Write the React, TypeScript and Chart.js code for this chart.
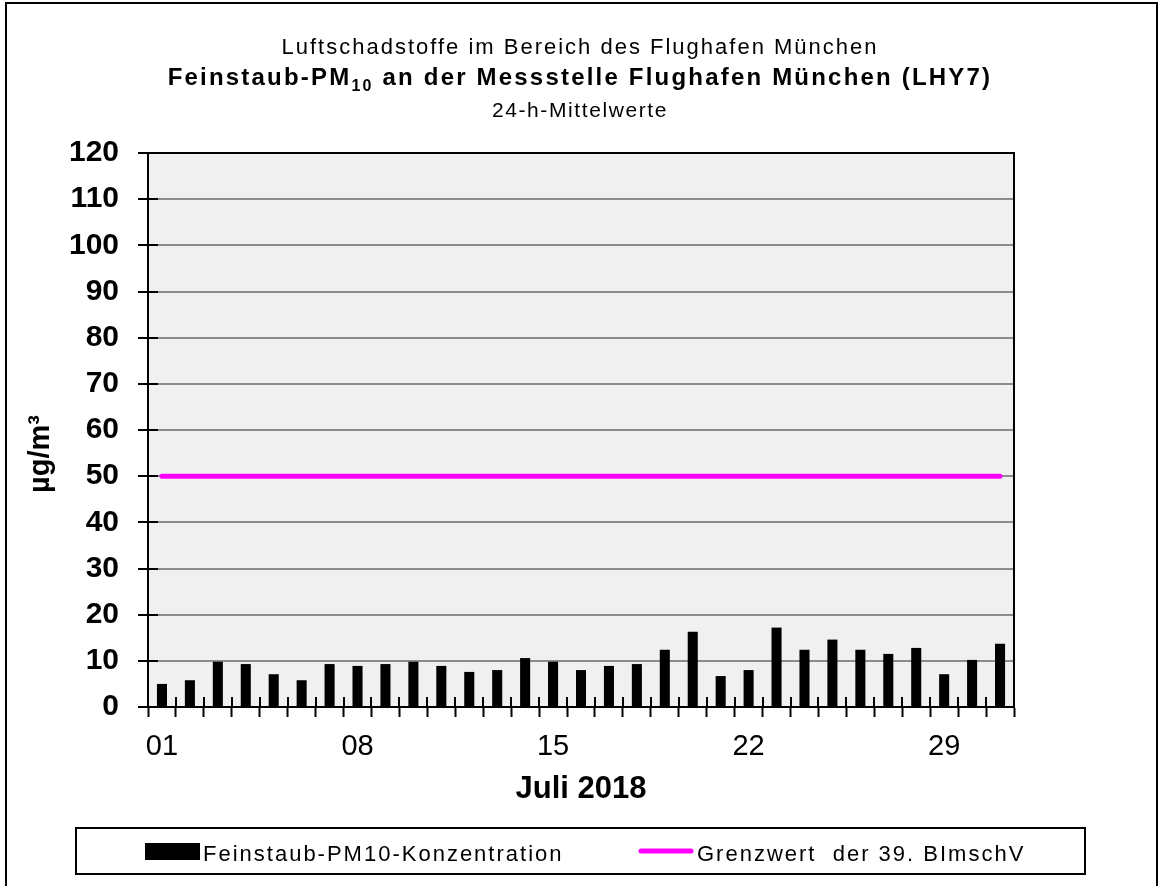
import React, { useEffect, useRef } from "react";
import { Chart, registerables } from "chart.js";

Chart.register(...registerables);

// ---------- data ----------
const DAYS = [
  "01", "02", "03", "04", "05", "06", "07", "08", "09", "10",
  "11", "12", "13", "14", "15", "16", "17", "18", "19", "20",
  "21", "22", "23", "24", "25", "26", "27", "28", "29", "30", "31",
];
const SHOWN_DAY_LABELS = ["01", "08", "15", "22", "29"];
const PM10 = [
  5.0, 5.8, 9.8, 9.3, 7.1, 5.8, 9.3, 8.9, 9.3, 9.8,
  8.9, 7.6, 8.0, 10.6, 9.8, 8.0, 8.9, 9.3, 12.4, 16.3,
  6.7, 8.0, 17.2, 12.4, 14.6, 12.4, 11.5, 12.8, 7.1, 10.2, 13.7,
];
const GRENZWERT = [
  50, 50, 50, 50, 50, 50, 50, 50, 50, 50,
  50, 50, 50, 50, 50, 50, 50, 50, 50, 50,
  50, 50, 50, 50, 50, 50, 50, 50, 50, 50, 50,
];
const Y_MIN = 0;
const Y_MAX = 120;
const Y_STEP = 10;

const TITLE_LINE1 = "Luftschadstoffe im Bereich des Flughafen München";
const TITLE_LINE2_A = "Feinstaub-PM";
const TITLE_LINE2_SUB = "10";
const TITLE_LINE2_B = " an der Messstelle Flughafen München (LHY7)";
const TITLE_LINE3 = "24-h-Mittelwerte";
const X_TITLE = "Juli 2018";
const Y_TITLE = "µg/m³";
const LEGEND_BAR = "Feinstaub-PM10-Konzentration";
const LEGEND_LINE = "Grenzwert  der 39. BImschV";

const FONT = '"Liberation Sans", Arial, Helvetica, sans-serif';
const W = 1159;
const H = 886;

function setSpacing(ctx: any, px: number) {
  if ("letterSpacing" in ctx) ctx.letterSpacing = px + "px";
}

const decorPlugin = {
  id: "decor",
  beforeDraw(chart: any) {
    const { ctx, chartArea: a } = chart;
    ctx.save();
    ctx.fillStyle = "#ffffff";
    ctx.fillRect(0, 0, chart.width, chart.height);
    ctx.fillStyle = "#f0f0f0";
    ctx.fillRect(a.left, a.top, a.right - a.left, a.bottom - a.top);
    ctx.restore();
  },
  afterDraw(chart: any) {
    const { ctx, chartArea: a } = chart;
    const xs = chart.scales.x;
    const ys = chart.scales.y;
    ctx.save();
    ctx.strokeStyle = "#000";
    ctx.lineWidth = 2;
    // inner y tick marks
    ys.ticks.forEach((t: any) => {
      if (t.value <= Y_MIN || t.value >= Y_MAX) return;
      const py = Math.round(ys.getPixelForValue(t.value));
      ctx.beginPath();
      ctx.moveTo(a.left, py);
      ctx.lineTo(a.left + 10, py);
      ctx.stroke();
    });
    // inner x tick marks at category boundaries
    for (let i = 1; i < DAYS.length; i++) {
      const px = Math.round((xs.getPixelForValue(i - 1) + xs.getPixelForValue(i)) / 2);
      ctx.beginPath();
      ctx.moveTo(px, a.bottom - 10);
      ctx.lineTo(px, a.bottom);
      ctx.stroke();
    }
    // plot frame
    ctx.strokeRect(a.left, a.top, a.right - a.left, a.bottom - a.top);
    // outer frame
    ctx.strokeRect(6, 3, 1151, 900);

    // titles
    ctx.fillStyle = "#000";
    ctx.textBaseline = "alphabetic";
    ctx.textAlign = "left";
    const cx = 580;
    // line 1
    ctx.font = `22px ${FONT}`;
    setSpacing(ctx, 2);
    const w1 = ctx.measureText(TITLE_LINE1).width;
    ctx.fillText(TITLE_LINE1, cx - w1 / 2, 54);
    // line 2
    ctx.font = `bold 24px ${FONT}`;
    setSpacing(ctx, 2.2);
    const wa = ctx.measureText(TITLE_LINE2_A).width;
    const wb = ctx.measureText(TITLE_LINE2_B).width;
    ctx.font = `bold 16px ${FONT}`;
    const ws = ctx.measureText(TITLE_LINE2_SUB).width;
    const x2 = cx - (wa + ws + wb) / 2;
    ctx.font = `bold 24px ${FONT}`;
    ctx.fillText(TITLE_LINE2_A, x2, 85);
    ctx.font = `bold 16px ${FONT}`;
    ctx.fillText(TITLE_LINE2_SUB, x2 + wa, 91);
    ctx.font = `bold 24px ${FONT}`;
    ctx.fillText(TITLE_LINE2_B, x2 + wa + ws, 85);
    // line 3
    ctx.font = `21px ${FONT}`;
    setSpacing(ctx, 1.6);
    const w3 = ctx.measureText(TITLE_LINE3).width;
    ctx.fillText(TITLE_LINE3, cx - w3 / 2, 117);
    setSpacing(ctx, 0);

    // y axis title
    ctx.save();
    ctx.translate(41, 454);
    ctx.rotate(-Math.PI / 2);
    ctx.font = `bold 29px ${FONT}`;
    ctx.textAlign = "center";
    ctx.textBaseline = "middle";
    ctx.fillText(Y_TITLE, 0, 0);
    ctx.restore();

    // legend
    ctx.lineWidth = 2;
    ctx.strokeStyle = "#000";
    ctx.strokeRect(76, 828, 1009, 46);
    ctx.fillStyle = "#000";
    ctx.fillRect(145, 843, 55, 17);
    ctx.font = `22px ${FONT}`;
    setSpacing(ctx, 2);
    ctx.textAlign = "left";
    ctx.textBaseline = "alphabetic";
    ctx.fillText(LEGEND_BAR, 203, 861);
    ctx.strokeStyle = "#ff00ff";
    ctx.lineWidth = 5;
    ctx.lineCap = "round";
    ctx.beginPath();
    ctx.moveTo(641, 851);
    ctx.lineTo(691, 851);
    ctx.stroke();
    ctx.fillText(LEGEND_LINE, 697, 861);
    setSpacing(ctx, 0);
    ctx.restore();
  },
};

export default function App() {
  const ref = useRef<HTMLCanvasElement | null>(null);

  useEffect(() => {
    if (!ref.current) return;
    const chart = new Chart(ref.current, {
      type: "bar",
      data: {
        labels: DAYS,
        datasets: [
          {
            type: "line",
            label: LEGEND_LINE,
            data: GRENZWERT,
            borderColor: "#ff00ff",
            backgroundColor: "#ff00ff",
            borderWidth: 5,
            borderCapStyle: "round",
            pointRadius: 0,
            fill: false,
            tension: 0,
            order: 0,
          } as any,
          {
            type: "bar",
            label: LEGEND_BAR,
            data: PM10,
            backgroundColor: "#000000",
            borderWidth: 0,
            barPercentage: 0.36,
            categoryPercentage: 1,
            order: 1,
          } as any,
        ],
      },
      options: {
        responsive: false,
        animation: false,
        events: [],
        layout: { padding: { top: 153, right: 145, bottom: 0, left: 0 } },
        plugins: {
          legend: { display: false },
          tooltip: { enabled: false },
          title: { display: false },
        },
        scales: {
          x: {
            offset: true,
            grid: {
              display: true,
              drawOnChartArea: false,
              offset: true,
              drawTicks: true,
              tickLength: 10,
              tickColor: "#000",
              tickWidth: 2,
            },
            border: { display: true, color: "#000", width: 2 },
            ticks: {
              autoSkip: false,
              maxRotation: 0,
              minRotation: 0,
              padding: 13,
              color: "#000",
              font: { family: FONT, size: 29 },
              callback: (_v: any, i: number) =>
                SHOWN_DAY_LABELS.includes(DAYS[i]) ? DAYS[i] : "",
            },
            title: {
              display: true,
              text: X_TITLE,
              color: "#000",
              font: { family: FONT, size: 31, weight: "bold" },
              padding: { top: 0, bottom: 78 },
            },
            afterFit: (s: any) => {
              s.height = 179;
            },
          },
          y: {
            min: Y_MIN,
            max: Y_MAX,
            grid: {
              color: "#8c8c8c",
              lineWidth: 2,
              drawTicks: true,
              tickLength: 10,
              tickColor: "#000",
              tickWidth: 2,
            },
            border: { display: true, color: "#000", width: 2 },
            ticks: {
              stepSize: Y_STEP,
              padding: 19,
              color: "#000",
              font: { family: FONT, size: 30, weight: "bold" },
            },
            afterFit: (s: any) => {
              s.width = 148;
            },
          },
        },
      } as any,
      plugins: [decorPlugin],
    });
    return () => chart.destroy();
  }, []);

  return (
    <canvas
      ref={ref}
      width={W}
      height={H}
      style={{ position: "fixed", left: 0, top: 0, width: W, height: H, display: "block" }}
    />
  );
}
